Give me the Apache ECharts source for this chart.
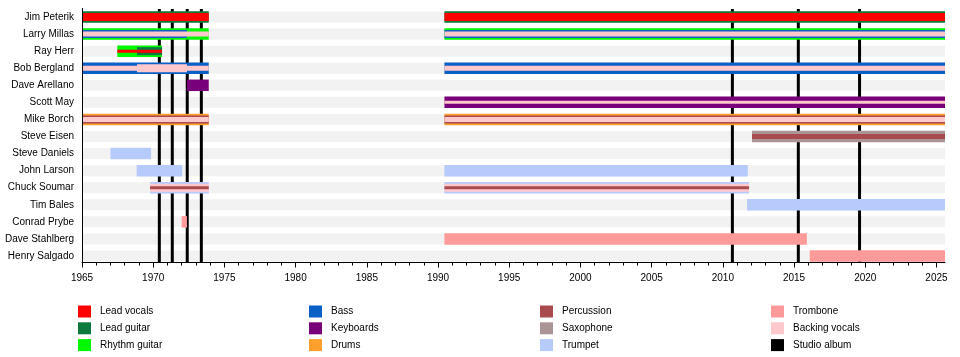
<!DOCTYPE html>
<html>
<head>
<meta charset="utf-8">
<script src="https://cdn.jsdelivr.net/npm/echarts@6/dist/echarts.min.js"></script>
<style>html,body{margin:0;padding:0;background:#fff}#c{width:960px;height:357px}</style>
</head>
<body>
<div id="c"></div>
<script>
const members = ['Jim Peterik','Larry Millas','Ray Herr','Bob Bergland','Dave Arellano','Scott May','Mike Borch','Steve Eisen','Steve Daniels','John Larson','Chuck Soumar','Tim Bales','Conrad Prybe','Dave Stahlberg','Henry Salgado'];
const tickYears = [1965,1970,1975,1980,1985,1990,1995,2000,2005,2010,2015,2020,2025];
const minorYears = [];
for (let y = 1966; y <= 2024; y++) if (y % 5 !== 0) minorYears.push(y);
const axisStart = 1965, axisEnd = 2025.6;
const albumYears = [1970.43, 1971.34, 1972.39, 1973.38, 2010.67, 2015.3, 2019.6];

const leadVocals   = [['Jim Peterik',1965,1973.9],['Jim Peterik',1990.45,2025.6],['Ray Herr',1967.48,1970.62]];
const leadGuitar   = [['Jim Peterik',1965,1973.9],['Jim Peterik',1990.45,2025.6],['Ray Herr',1968.86,1970.62]];
const rhythmGuitar = [['Larry Millas',1965,1973.9],['Larry Millas',1990.45,2025.6],['Ray Herr',1967.48,1970.62]];
const bass         = [['Larry Millas',1965,1972.37],['Larry Millas',1990.45,2025.6],['Bob Bergland',1965,1973.9],['Bob Bergland',1990.45,2025.6]];
const keyboards    = [['Dave Arellano',1972.37,1973.9],['Scott May',1990.45,2025.6]];
const drums        = [['Mike Borch',1965,1973.9],['Mike Borch',1990.45,2025.6]];
const percussion   = [['Mike Borch',1965,1973.9],['Mike Borch',1990.45,2025.6],['Steve Eisen',2012.05,2025.6],['Chuck Soumar',1969.78,1973.9],['Chuck Soumar',1990.45,2011.84]];
const saxophone    = [['Steve Eisen',2012.05,2025.6]];
const trumpet      = [['Steve Daniels',1967.0,1969.85],['John Larson',1968.84,1972.04],['John Larson',1990.45,2011.75],['Chuck Soumar',1969.78,1973.9],['Chuck Soumar',1990.45,2011.84],['Tim Bales',2011.7,2025.6]];
const trombone     = [['Conrad Prybe',1972.0,1972.37],['Dave Stahlberg',1990.45,2015.9],['Henry Salgado',2016.1,2025.6]];
const backingVocals= [['Larry Millas',1965,1973.9],['Larry Millas',1990.45,2025.6],['Bob Bergland',1965,1973.9],['Bob Bergland',1968.86,1972.37],['Bob Bergland',1990.45,2025.6],['Scott May',1990.45,2025.6],['Mike Borch',1965,1973.9],['Mike Borch',1990.45,2025.6],['Chuck Soumar',1969.78,1973.9],['Chuck Soumar',1990.45,2011.84]];

const roles = [
  ['Lead vocals', '#ff0000', leadVocals],
  ['Lead guitar', '#0b7a3c', leadGuitar],
  ['Rhythm guitar', '#00f800', rhythmGuitar],
  ['Bass', '#0b60c6', bass],
  ['Keyboards', '#780078', keyboards],
  ['Drums', '#ffa02e', drums],
  ['Percussion', '#a84a4e', percussion],
  ['Saxophone', '#ab9496', saxophone],
  ['Trumpet', '#b6cafc', trumpet],
  ['Trombone', '#ff9a9a', trombone],
  ['Backing vocals', '#ffc8cc', backingVocals]
];

// style: nesting level of each band (0 = outer, higher = inner/thinner)
const layerOf = {
  'Jim Peterik|Lead vocals': 1,
  'Ray Herr|Lead guitar': 1,
  'Ray Herr|Lead vocals': 3,
  'Larry Millas|Bass': 1,
  'Larry Millas|Backing vocals': 2,
  'Bob Bergland|Backing vocals': 2,
  'Bob Bergland|Backing vocals|1968.86': 1,
  'Scott May|Backing vocals': 3,
  'Mike Borch|Percussion': 1,
  'Mike Borch|Backing vocals': 2,
  'Steve Eisen|Percussion': 2,
  'Chuck Soumar|Backing vocals': 1,
  'Chuck Soumar|Percussion': 3
};
const thickness = [11.5, 8, 5, 3];

function levelFor(member, role, start) {
  const k3 = member + '|' + role + '|' + start;
  if (k3 in layerOf) return layerOf[k3];
  const k2 = member + '|' + role;
  return (k2 in layerOf) ? layerOf[k2] : 0;
}

function makeRender(role, color, src) {
  return function (params, api) {
    const item = src[params.dataIndex];
    const yi = api.value(0);
    const s = api.coord([api.value(1), yi]);
    const e = api.coord([api.value(2), yi]);
    const lvl = levelFor(item[0], role, item[1]);
    const h = thickness[lvl];
    return {
      type: 'rect',
      shape: { x: s[0], y: s[1] - h / 2, width: e[0] - s[0], height: h },
      style: { fill: color },
      z2: 10 + lvl * 10
    };
  };
}

const bgData = members.map(m => [m, axisStart, axisEnd]);

const series = [];
series.push({
  type: 'custom', name: 'bg', z: 1, silent: true,
  encode: { x: [1, 2], y: 0 },
  data: bgData,
  renderItem: function (params, api) {
    const yi = api.value(0);
    const s = api.coord([api.value(1), yi]);
    const e = api.coord([api.value(2), yi]);
    const h = 11;
    return { type: 'rect', shape: { x: s[0] + 0.5, y: s[1] - h / 2, width: e[0] - s[0] - 0.5, height: h }, style: { fill: '#f2f2f2' } };
  }
});
series.push({
  type: 'custom', name: 'Studio album', z: 2, silent: true,
  itemStyle: { color: '#000' },
  encode: { x: 0 },
  data: albumYears.map(v => [v]),
  renderItem: function (params, api) {
    const cs = params.coordSys;
    const p = api.coord([api.value(0), 0]);
    const w = 3;
    return { type: 'rect', shape: { x: p[0] - w / 2, y: cs.y + 0.5, width: w, height: cs.height - 2.5 }, style: { fill: '#000' } };
  }
});
roles.forEach(([name, color, src]) => {
  series.push({
    type: 'custom', name: name, z: 3, silent: true,
    itemStyle: { color: color },
    encode: { x: [1, 2], y: 0 },
    data: src,
    renderItem: makeRender(name, color, src)
  });
});

const legendCols = [
  ['Lead vocals', 'Lead guitar', 'Rhythm guitar'],
  ['Bass', 'Keyboards', 'Drums'],
  ['Percussion', 'Saxophone', 'Trumpet'],
  ['Trombone', 'Backing vocals', 'Studio album']
];
const legendLeft = [78, 309, 540, 771];

const textFont = 'Liberation Sans, Arial, Helvetica, sans-serif';

const option = {
  animation: false,
  grid: { left: 82, right: 15, top: 8.5, height: 256 },
  xAxis: [
    {
      type: 'value', min: axisStart, max: axisEnd, position: 'bottom', offset: -2,
      splitLine: { show: false },
      axisLine: { show: true, lineStyle: { color: '#000', width: 1 } },
      axisTick: { show: true, length: 5, lineStyle: { color: '#000' }, customValues: tickYears },
      axisLabel: { color: '#000', fontSize: 10, fontFamily: textFont, margin: 11, customValues: tickYears, formatter: v => String(v) }
    },
    {
      type: 'value', min: axisStart, max: axisEnd, position: 'bottom', offset: -2,
      splitLine: { show: false },
      axisLine: { show: false },
      axisTick: { show: true, length: 3, lineStyle: { color: '#000' }, customValues: minorYears },
      axisLabel: { show: false }
    }
  ],
  yAxis: {
    type: 'category', data: members, inverse: true, z: 10,
    axisLine: { show: true, lineStyle: { color: '#000', width: 1 } },
    axisTick: { show: false },
    splitLine: { show: false },
    axisLabel: { color: '#000', fontSize: 10, fontFamily: textFont, margin: 8 }
  },
  legend: legendCols.map((col, i) => ({
    data: col, orient: 'vertical', left: legendLeft[i], top: 305.5,
    width: 200, height: 70, padding: 0,
    icon: 'rect', itemWidth: 13, itemHeight: 12, itemGap: 4.8,
    selectedMode: false,
    textStyle: { color: '#000', fontSize: 10, fontFamily: textFont, padding: [0, 0, 0, 4] }
  })),
  series: series
};

const chart = echarts.init(document.getElementById('c'), null, { renderer: 'canvas' });
chart.setOption(option);
</script>
</body>
</html>
